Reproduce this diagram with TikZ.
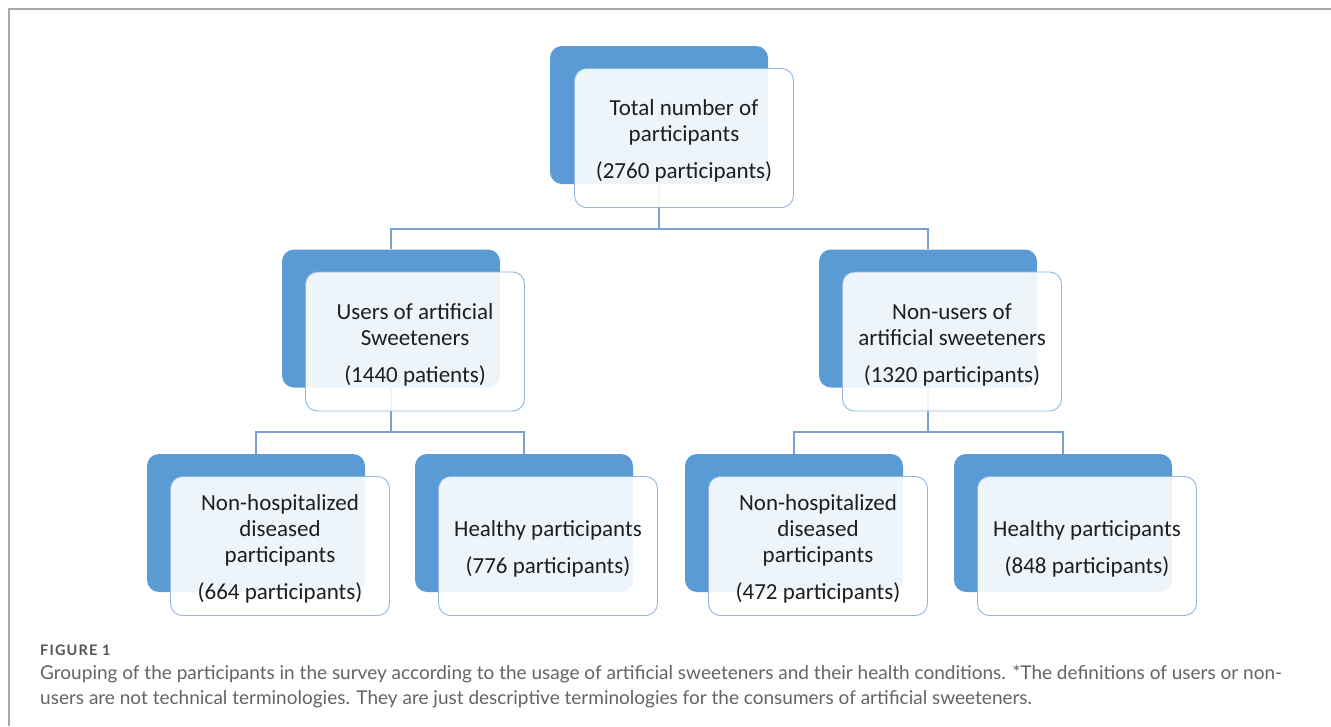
\documentclass[tikz,border=0pt]{standalone}
\usepackage{fontspec}
\setmainfont{Carlito}
\newfontfamily\capfont{Lato}
\newfontfamily\figfont[LetterSpace=8]{Lato}
\definecolor{accblue}{RGB}{91,155,213}
\definecolor{edgeblue}{RGB}{146,182,224}
\definecolor{connblue}{RGB}{120,160,208}
\definecolor{txt}{RGB}{30,30,30}
\definecolor{capgray}{RGB}{100,100,100}
\definecolor{figgray}{RGB}{85,85,85}
\definecolor{framegray}{RGB}{170,170,170}
\newcommand{\topstrut}{\rule{0pt}{22pt}}
\tikzset{
  backbox/.style={rectangle, rounded corners=12pt, fill=accblue, draw=none, minimum width=218pt, minimum height=138pt, inner sep=0pt},
  frontbox/.style={rectangle, rounded corners=12pt, fill=white, fill opacity=0.9, text opacity=1, draw=edgeblue, line width=0.9pt, minimum width=219pt, minimum height=139pt, inner sep=0pt, align=center, text=txt, font=\fontsize{23}{26}\selectfont},
  conn/.style={draw=connblue, line width=1.1pt},
  captxt/.style={anchor=base west, inner sep=0pt, text=capgray, font=\capfont\fontsize{19}{25}\selectfont},
}
\begin{document}
\begin{tikzpicture}[x=1pt,y=-1pt]
\useasboundingbox (0,0) rectangle (1331,726);
\fill[white] (0,0) rectangle (1331,726);
% frame
\draw[framegray, line width=1.5pt] (9,726) -- (9,9) -- (1331,9);
% back boxes
\node[backbox] (b0) at (659,115) {};
\node[backbox] (b1) at (391,318.5) {};
\node[backbox] (b2) at (928,318.5) {};
\node[backbox] (b3) at (256,523) {};
\node[backbox] (b4) at (524,523) {};
\node[backbox] (b5) at (794,523) {};
\node[backbox] (b6) at (1063,523) {};
% connectors
\coordinate (j0) at (659,229);
\coordinate (j1) at (391,432);
\coordinate (j2) at (928,432);
\draw[conn] (b0.south) -- (j0) -| (b1.north);
\draw[conn] (j0) -| (b2.north);
\draw[conn] (b1.south) -- (j1) -| (b3.north);
\draw[conn] (j1) -| (b4.north);
\draw[conn] (b2.south) -- (j2) -| (b5.north);
\draw[conn] (j2) -| (b6.north);
% front boxes
\node[frontbox] (w0) at (684,138) {\topstrut Total number of\\participants\\[11pt](2760 participants)};
\node[frontbox] (w1) at (415,341.5) {\topstrut Users of artificial\\Sweeteners\\[11pt](1440 patients)};
\node[frontbox] (w2) at (952,341.5) {\topstrut Non-users of\\artificial sweeteners\\[11pt](1320 participants)};
\node[frontbox] (w3) at (280,546) {\topstrut Non-hospitalized\\diseased\\participants\\[11pt](664 participants)};
\node[frontbox] (w4) at (548,546) {\topstrut Healthy participants\\[11pt](776 participants)};
\node[frontbox] (w5) at (818,546) {\topstrut Non-hospitalized\\diseased\\participants\\[11pt](472 participants)};
\node[frontbox] (w6) at (1087,546) {\topstrut Healthy participants\\[11pt](848 participants)};
% caption
\node[captxt, text=figgray, font=\figfont\bfseries\fontsize{14.5}{16}\selectfont] (fig) at (40,655) {FIGURE 1};
\node[captxt] (cap1) at (40,679) {Grouping of the participants in the survey according to the usage of artificial sweeteners and their health conditions. *The definitions of users or non-};
\node[captxt] (cap2) at (40,704) {users are not technical terminologies. They are just descriptive terminologies for the consumers of artificial sweeteners.};
\end{tikzpicture}
\end{document}
